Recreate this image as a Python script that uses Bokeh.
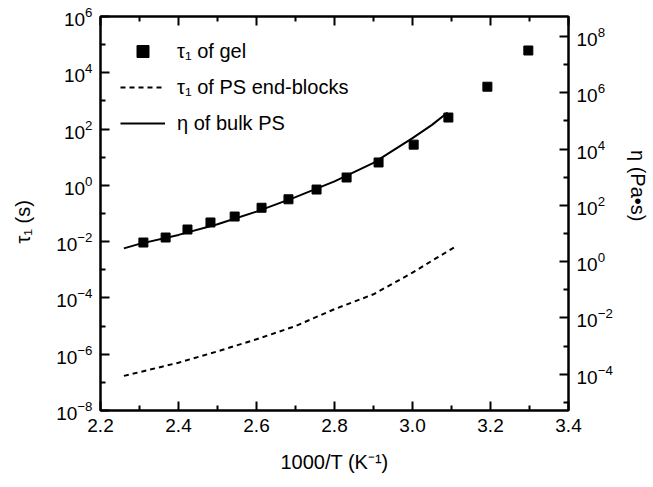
from bokeh.plotting import figure
from bokeh.models import (LogAxis, LinearAxis, Range1d, FixedTicker, LogScale,
                          NumeralTickFormatter, LogTickFormatter,
                          CustomJSTickFormatter)
from bokeh.embed import file_html
from bokeh.resources import INLINE

# relaxation time of the gel, tau_1 (s) vs 1000/T
gel_x = [2.31, 2.367, 2.423, 2.482, 2.544, 2.613, 2.682, 2.754, 2.831, 2.913,
         3.003, 3.092, 3.192, 3.297]
gel_tau = [0.0093, 0.014, 0.027, 0.048, 0.078, 0.16, 0.32, 0.71, 1.9, 6.5,
           28, 257, 3200, 62000]

# relaxation time of the PS end-blocks, tau_1 (s)
pse_x = [2.26, 2.3, 2.4, 2.5, 2.6, 2.7, 2.8, 2.9, 3.0, 3.05, 3.11]
pse_tau = [1.7e-7, 2.3e-7, 5.0e-7, 1.26e-6, 3.4e-6, 1.0e-5, 4.0e-5, 1.35e-4,
           7.9e-4, 2.1e-3, 6.6e-3]

# viscosity of bulk PS, eta (Pa s), right axis
eta_x = [2.26, 2.3, 2.4, 2.5, 2.6, 2.7, 2.8, 2.9, 3.0, 3.05, 3.09]
eta = [2.95, 4.27, 8.9, 21.4, 60, 195, 710, 3240, 24500, 72400, 200000]

x_major = [2.2, 2.4, 2.6, 2.8, 3.0, 3.2, 3.4]
x_minor = [2.3, 2.5, 2.7, 2.9, 3.1, 3.3]
tau_major = [1e-8, 1e-6, 1e-4, 1e-2, 1e0, 1e2, 1e4, 1e6]
tau_minor = [1e-7, 1e-5, 1e-3, 1e-1, 1e1, 1e3, 1e5]
eta_major = [1e-4, 1e-2, 1e0, 1e2, 1e4, 1e6, 1e8]
eta_minor = [1e-5, 1e-3, 1e-1, 1e1, 1e3, 1e5, 1e7]

FONT = "Liberation Sans"
NBSP = "\u00a0"

p = figure(width=653, height=487, output_backend="svg", toolbar_location=None,
           x_range=Range1d(2.2, 3.4), y_range=Range1d(1e-8, 1e6),
           y_axis_type="log", x_axis_location=None, y_axis_location=None,
           min_border_left=100, min_border_right=85, min_border_top=16,
           min_border_bottom=77)
p.extra_y_ranges = {"eta": Range1d(10 ** -5.29, 10 ** 8.71)}
p.extra_y_scales = {"eta": LogScale()}
p.grid.visible = False
p.outline_line_color = "black"
p.outline_line_width = 2
p.background_fill_color = "white"
p.border_fill_color = "white"


def style(ax):
    ax.axis_line_width = 2
    ax.major_tick_line_width = 2
    ax.minor_tick_line_width = 2
    ax.major_tick_in = 9
    ax.major_tick_out = 0
    ax.minor_tick_in = 5
    ax.minor_tick_out = 0
    ax.major_label_text_font = FONT
    ax.major_label_text_font_size = "19px"
    ax.major_label_text_color = "black"
    ax.axis_label_text_font = FONT
    ax.axis_label_text_font_size = "20px"
    ax.axis_label_text_font_style = "normal"
    ax.axis_label_text_color = "black"


xb = LinearAxis(ticker=FixedTicker(ticks=x_major, minor_ticks=x_minor),
                formatter=NumeralTickFormatter(format="0.0"),
                axis_label="1000/T (K\u207b\u00b9)")
style(xb)
xb.major_label_standoff = 8
xb.axis_label_standoff = 16
p.add_layout(xb, "below")

# top frame edge carries ticks only
xt = LinearAxis(ticker=FixedTicker(ticks=x_major, minor_ticks=x_minor),
                formatter=CustomJSTickFormatter(code="return ''"))
style(xt)
xt.major_label_standoff = 0
p.add_layout(xt, "above")

yl = LogAxis(ticker=FixedTicker(ticks=tau_major, minor_ticks=tau_minor),
             formatter=LogTickFormatter(),
             axis_label="\u03c4\u2081 (s)" + NBSP * 3)
style(yl)
yl.major_label_standoff = 8
yl.axis_label_standoff = 19
p.add_layout(yl, "left")

yr = LogAxis(y_range_name="eta",
             ticker=FixedTicker(ticks=eta_major, minor_ticks=eta_minor),
             formatter=LogTickFormatter(),
             axis_label="\u03b7 (Pa\u2022s)" + NBSP * 10)
style(yr)
yr.major_label_standoff = 8
yr.axis_label_standoff = 11
p.add_layout(yr, "right")

p.scatter(gel_x, gel_tau, marker="square", size=9, color="black",
          legend_label="\u03c4\u2081 of gel")
p.line(pse_x, pse_tau, line_color="black", line_width=2, line_dash="5 4",
       legend_label="\u03c4\u2081 of PS end-blocks")
p.line(eta_x, eta, y_range_name="eta", line_color="black", line_width=2,
       legend_label="\u03b7 of bulk PS")

lg = p.legend[0]
lg.location = "top_left"
lg.margin = 20
lg.padding = 0
lg.border_line_color = None
lg.background_fill_alpha = 0
lg.glyph_width = 45
lg.glyph_height = 30
lg.label_height = 30
lg.spacing = 6
lg.label_standoff = 12
lg.label_text_font = FONT
lg.label_text_font_size = "20px"
lg.label_text_color = "black"

open("out.html", "w").write(file_html(p, INLINE))
